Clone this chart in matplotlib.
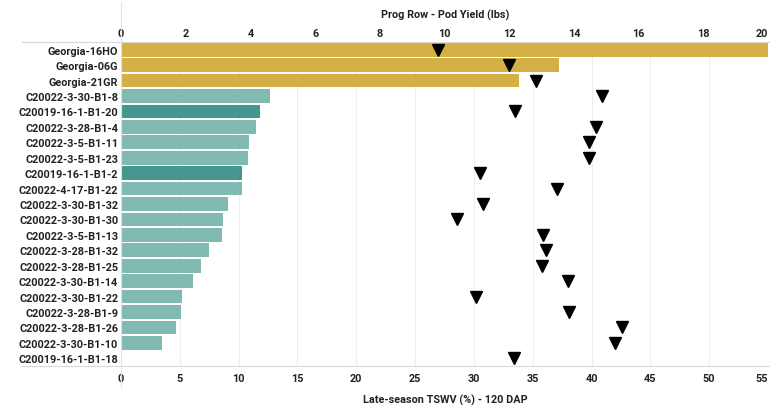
import matplotlib.pyplot as plt
from matplotlib.lines import Line2D

plt.rcParams["font.family"] = ["Roboto", "DejaVu Sans"]

entries = [
    "Georgia-16HO", "Georgia-06G", "Georgia-21GR",
    "C20022-3-30-B1-8", "C20019-16-1-B1-20", "C20022-3-28-B1-4",
    "C20022-3-5-B1-11", "C20022-3-5-B1-23", "C20019-16-1-B1-2",
    "C20022-4-17-B1-22", "C20022-3-30-B1-32", "C20022-3-30-B1-30",
    "C20022-3-5-B1-13", "C20022-3-28-B1-32", "C20022-3-28-B1-25",
    "C20022-3-30-B1-14", "C20022-3-30-B1-22", "C20022-3-28-B1-9",
    "C20022-3-28-B1-26", "C20022-3-30-B1-10", "C20019-16-1-B1-18",
]
tswv = [55.0, 37.2, 33.8, 12.7, 11.8, 11.5, 10.9, 10.8, 10.3, 10.3, 9.1,
        8.7, 8.6, 7.5, 6.8, 6.1, 5.2, 5.1, 4.7, 3.5, 0.0]
pod_yield = [9.8, 12.0, 12.83, 14.87, 12.18, 14.67, 14.47, 14.46, 11.1, 13.48,
             11.19, 10.38, 13.05, 13.14, 13.02, 13.81, 10.97, 13.84, 15.49,
             15.26, 12.15]
group = ["check"] * 3 + ["line", "parent", "line", "line", "line", "parent"] + ["line"] * 12

colors = {"check": "#D3AF45", "line": "#80BAB1", "parent": "#469690"}
text_c = "#222222"
fs = 7.8

fig = plt.figure(figsize=(7.7, 4.06), dpi=100)
ax = fig.add_axes([121 / 770, 39 / 406, 647 / 770, 324 / 406])

y = list(range(len(entries)))
ax.barh(y, tswv, height=0.88, color=[colors[g] for g in group], zorder=2)
ax.set_xlim(0, 55)
ax.set_ylim(len(entries) - 0.5, -0.5)
ax.set_yticks(y)
ax.set_yticklabels(entries, fontsize=fs, fontweight="bold", color=text_c)
ax.set_xticks(range(0, 56, 5))
ax.tick_params(axis="both", length=0, labelsize=fs, labelcolor=text_c)
for lab in ax.get_xticklabels():
    lab.set_fontweight("bold")
ax.get_xticklabels()[-1].set_horizontalalignment("right")
ax.tick_params(axis="x", pad=5)
ax.tick_params(axis="y", pad=2)
ax.grid(axis="x", color="#EEEEEE", linewidth=0.8, zorder=0)
for s in ax.spines.values():
    s.set_visible(False)

ax2 = ax.twiny()
ax2.plot(pod_yield, y, linestyle="none", marker="v", markersize=9,
         color="black", zorder=5)
ax2.set_xlim(0, 20)
ax2.set_ylim(len(entries) - 0.5, -0.5)
ax2.set_xticks(range(0, 21, 2))
ax2.tick_params(axis="x", length=0, labelsize=fs, labelcolor=text_c, pad=3)
for lab in ax2.get_xticklabels():
    lab.set_fontweight("bold")
ax2.get_xticklabels()[-1].set_horizontalalignment("right")
for s in ax2.spines.values():
    s.set_visible(False)

# frame lines like the original dashboard
fig.add_artist(Line2D([22 / 770, 1], [1 - 43 / 406, 1 - 43 / 406], color="#D9D9D9", lw=0.8))
fig.add_artist(Line2D([22 / 770, 1], [1 - 367 / 406, 1 - 367 / 406], color="#D9D9D9", lw=0.8))
fig.add_artist(Line2D([121 / 770, 121 / 770], [1 - 3 / 406, 1 - 388 / 406], color="#E3E3E3", lw=0.8))

fig.text(445 / 770, 1 - 15 / 406, "Prog Row - Pod Yield (lbs)", ha="center", va="center",
         fontsize=fs, fontweight="bold", color=text_c)
fig.text(445 / 770, 1 - 400 / 406, "Late-season TSWV (%) - 120 DAP", ha="center", va="center",
         fontsize=fs, fontweight="bold", color=text_c)

fig.savefig("out.png", dpi=100)
